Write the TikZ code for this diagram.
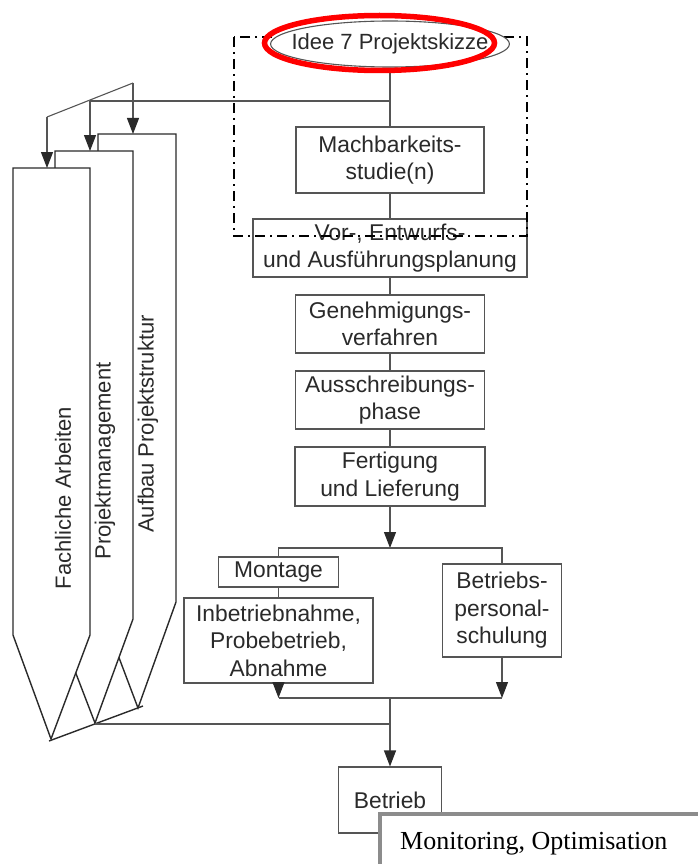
\documentclass[tikz,border=0pt]{standalone}
\usepackage{fontspec}
\setmainfont{Liberation Sans}
\newfontfamily\serifrm{Liberation Serif}
\usetikzlibrary{arrows.meta}
\usetikzlibrary{shapes.geometric}
\definecolor{inkgray}{HTML}{2A2A2A}
\definecolor{linegray}{HTML}{555555}
\definecolor{framegray}{HTML}{8C8C8C}
\begin{document}
\begin{tikzpicture}[x=1pt, y=-1pt,
    stage/.style={draw=linegray, line width=1.1pt, fill=white, text=inkgray, align=center,
      inner sep=0pt, font=\fontsize{22.8}{27.5}\selectfont},
    column/.style={draw=inkgray, line width=1.4pt, fill=white, line join=miter},
    collabel/.style={rotate=90, text=inkgray, inner sep=0pt, font=\fontsize{22}{26}\selectfont},
    link/.style={draw=linegray, line width=1.1pt},
    flow/.style={link, -{Triangle[length=16pt, width=12pt, color=inkgray]}},
    phasebox/.style={draw=black, line width=2.3pt, dash pattern=on 10pt off 5pt on 2pt off 5pt}]
  \useasboundingbox (0,0) rectangle (698,864);

  % the three columns on the left
  \draw[column] (98,134) coordinate (topA) -- (176,134) -- (176,602) -- (138,708) -- (98,602) -- cycle;
  \node[collabel] (aufbau) at (148,424) {Aufbau Projektstruktur};
  \draw[column] (55,151) coordinate (topP) -- (133,151) -- (133,619) -- (95,723) -- (55,619) -- cycle;
  \node[collabel] (pm) at (105,461) {Projektmanagement};
  \draw[column] (13,168) coordinate (topF) -- (90,168) -- (90,635) -- (51,739) -- (13,635) -- cycle;
  \node[collabel] (fach) at (63,498) {Fachliche Arbeiten};

  \coordinate (tipF) at (47,117);
  \coordinate (tipP) at (90,101);
  \coordinate (tipA) at (133,83);
  \coordinate (feed) at (390,101);
  \draw[link] (tipF) -- (tipA);
  \draw[link] (tipP) -- (feed);
  \draw[flow] (tipA) -- (tipA |- topA);
  \draw[flow] (tipP) -- (tipP |- topP);
  \draw[flow] (tipF) -- (tipF |- topF);

  \coordinate (baseL) at (49,741);
  \coordinate (baseR) at (143,706);
  \coordinate (baseM) at (95,724);
  \draw[link, draw=inkgray, line width=1.4pt] (baseL) -- (baseR);

  % main sequence
  \node[stage, minimum width=188, minimum height=66] (mach) at (390,160) {Machbarkeits-\\studie(n)};
  \node[stage, minimum width=274, minimum height=58] (plan) at (390,248) {Vor-, Entwurfs-\\und Ausführungsplanung};
  \node[stage, minimum width=189, minimum height=58] (genehm) at (390,324) {Genehmigungs-\\verfahren};
  \node[stage, minimum width=189, minimum height=58] (aus) at (390,400) {Ausschreibungs-\\phase};
  \node[stage, minimum width=190, minimum height=59] (fert) at (390,476.5) {Fertigung\\und Lieferung};
  \node[stage, minimum width=120, minimum height=30] (montage) at (278.5,572) {Montage};
  \node[stage, minimum width=189, minimum height=85] (inbetr) at (278.5,640.5) {Inbetriebnahme,\\Probebetrieb,\\Abnahme};
  \node[stage, minimum width=119, minimum height=93] (schulung) at (502,610.5) {Betriebs-\\personal-\\schulung};
  \node[stage, minimum width=103, minimum height=66] (betrieb) at (390,800) {Betrieb};

  \coordinate (split) at (390,548);
  \coordinate (join) at (390,698);
  \coordinate (merge) at (390,724);

  \draw[link] (mach) -- (plan);
  \draw[link] (plan) -- (genehm);
  \draw[link] (genehm) -- (aus);
  \draw[link] (aus) -- (fert);
  \draw[flow] (fert) -- (split);
  \draw[link] (montage.north) |- (split) -| (schulung.north);
  \draw[link] (montage) -- (inbetr);
  \draw[flow] (inbetr.south) -- (inbetr.south |- join);
  \draw[flow] (schulung.south) -- (schulung.south |- join);
  \draw[link] (inbetr.south |- join) -- (schulung.south |- join);
  \draw[link] (join) -- (merge);
  \draw[link] (baseM) -- (merge);
  \draw[flow] (merge) -- (betrieb);

  % project idea phase
  \draw[phasebox] (234,37) rectangle (527,236);
  \node[ellipse, draw=linegray, line width=1.1pt, fill=white, text=inkgray, inner xsep=-14pt, inner ysep=0pt,
    minimum height=46, font=\fontsize{22}{26}\selectfont] (idee) at (390,44) {Idee 7 Projektskizze};
  \draw[link] (idee) -- (feed) -- (mach);
  \node[ellipse, draw=red, line width=5.5pt, minimum width=230, minimum height=55] (ring) at (379.5,43) {};

  \draw[draw=framegray, line width=4pt, fill=white] (380,872) |- (706,814) -- (706,872) -- cycle;
  \node[anchor=base west, inner sep=0pt, font=\serifrm\fontsize{26}{30}\selectfont] (monitor) at (400,849) {Monitoring, Optimisation};
\end{tikzpicture}
\end{document}
